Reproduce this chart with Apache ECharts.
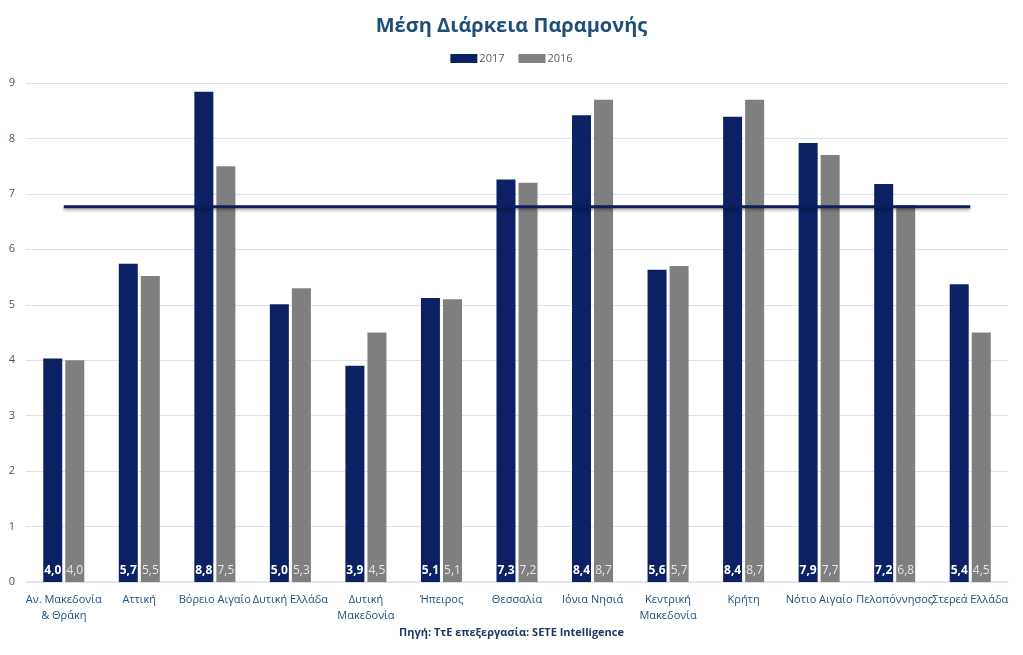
<!DOCTYPE html>
<html><head><meta charset="utf-8">
<script src="https://cdn.jsdelivr.net/npm/echarts@6/dist/echarts.min.js"></script>
<style>html,body{margin:0;padding:0;background:#fff}#c{width:1023px;height:655px}</style>
</head><body><div id="c"></div>
<script>
const categories = ["Αν. Μακεδονία\n& Θράκη","Αττική","Βόρειο Αιγαίο","Δυτική Ελλάδα","Δυτική\nΜακεδονία","Ήπειρος","Θεσσαλία","Ιόνια Νησιά","Κεντρική\nΜακεδονία","Κρήτη","Νότιο Αιγαίο","Πελοπόννησος","Στερεά Ελλάδα"];
const values2017 = [4.03,5.74,8.84,5.01,3.90,5.12,7.26,8.42,5.63,8.39,7.92,7.18,5.37];
const values2016 = [4.0,5.52,7.5,5.3,4.5,5.1,7.2,8.7,5.7,8.7,7.7,6.8,4.5];
const avgLine = [6.77,6.77,6.77,6.77,6.77,6.77,6.77,6.77,6.77,6.77,6.77,6.77,6.77];
const yTicks = [0,1,2,3,4,5,6,7,8,9];

const font = "Open Sans";
const fmt = p => p.value.toFixed(1).replace('.', ',');
const chart = echarts.init(document.getElementById('c'));
chart.setOption({
  backgroundColor:'#fff',
  textStyle:{fontFamily:font},
  title:[{text:'Μέση Διάρκεια Παραμονής',left:'center',top:11,
    textStyle:{fontFamily:font,fontSize:20,fontWeight:'bold',color:'#1F4E79'}},
    {text:'Πηγή: ΤτΕ επεξεργασία: SETE Intelligence',left:'center',top:622,
    textStyle:{fontFamily:font,fontSize:11,fontWeight:'bold',color:'#1F3864'}}],
  legend:{top:48,left:'center',itemWidth:27,itemHeight:9,itemGap:14,icon:'rect',
    data:['2017','2016'],textStyle:{fontFamily:font,fontSize:11,color:'#595959',padding:[0,0,0,-3]}},
  grid:{left:26,right:15,top:83,bottom:73,containLabel:false},
  xAxis:{type:'category',data:categories,
    axisLine:{lineStyle:{color:'#D9E1F2',width:1.5}},axisTick:{show:false},
    axisLabel:{interval:0,color:'#1F4E79',fontSize:11,lineHeight:16,margin:10,fontFamily:font}},
  yAxis:{type:'value',min:yTicks[0],max:yTicks[yTicks.length-1],interval:1,
    axisLine:{show:false},axisTick:{show:false},
    axisLabel:{color:'#44546A',fontSize:11,margin:11,fontFamily:font},
    splitLine:{lineStyle:{color:'#D9E1F2',width:1}}},
  series:[
    {name:'2017',type:'bar',data:values2017,barWidth:19,barGap:'16%',
     itemStyle:{color:'#0B2163'},
     label:{show:true,position:'insideBottom',distance:5,formatter:fmt,color:'#fff',fontWeight:'bold',fontSize:12,fontFamily:font}},
    {name:'2016',type:'bar',data:values2016,barWidth:19,
     itemStyle:{color:'#7F7F7F'},
     label:{show:true,position:'insideBottom',distance:5,formatter:fmt,color:'#E6E6E6',fontSize:12,fontFamily:font}},
    {name:'avg',type:'line',data:avgLine,symbol:'none',silent:true,z:5,
     lineStyle:{color:'#0B1F5C',width:3,shadowColor:'rgba(0,0,0,0.35)',shadowBlur:3,shadowOffsetY:2}}
  ]
});
</script></body></html>
